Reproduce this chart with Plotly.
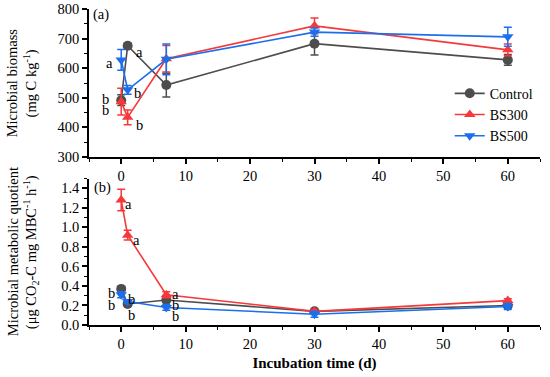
import plotly.graph_objects as go

days = [0, 1, 7, 30, 60]

# Microbial biomass (mg C kg-1)
mb_control = [492, 676, 543, 683, 628]
mb_control_err = [18, 8, 40, 38, 18]
mb_bs300 = [487, 434, 632, 743, 662]
mb_bs300_err = [45, 25, 45, 27, 20]
mb_bs500 = [628, 527, 630, 722, 706]
mb_bs500_err = [35, 15, 52, 14, 32]

# Microbial metabolic quotient
qc_control = [0.37, 0.215, 0.256, 0.14, 0.20]
qc_control_err = [0.02, 0.02, 0.02, 0.01, 0.02]
qc_bs300 = [1.28, 0.92, 0.31, 0.14, 0.25]
qc_bs300_err = [0.11, 0.05, 0.03, 0.02, 0.02]
qc_bs500 = [0.31, 0.24, 0.18, 0.11, 0.19]
qc_bs500_err = [0.03, 0.02, 0.03, 0.03, 0.03]

names = ["Control", "BS300", "BS500"]
colors = ["#4d4d4d", "#f5383a", "#1c6fec"]
symbols = ["circle", "triangle-up", "triangle-down"]

top_letters = [("a", 2.85, 655), ("a", -1.77, 618), ("b", -2.4, 496),
               ("b", -2.4, 458), ("b", 2.54, 516), ("b", 2.85, 407)]
bot_letters = [("a", 1.15, 1.24), ("a", 2.38, 0.87), ("a", 8.38, 0.32),
               ("b", 8.38, 0.205), ("b", 8.38, 0.09), ("b", -1.46, 0.33),
               ("b", -1.46, 0.205), ("b", 1.6, 0.27), ("b", 1.6, 0.10)]

top_title = ["Microbial biomass", "(mg C kg<sup>-1</sup>)"]
bot_title = ["Microbial metabolic quotient",
             "(μg CO<sub>2</sub>-C mg MBC<sup>-1</sup> h<sup>-1</sup>)"]

FONT = "Liberation Serif"

fig = go.Figure()
top = [(mb_control, mb_control_err), (mb_bs300, mb_bs300_err), (mb_bs500, mb_bs500_err)]
bot = [(qc_control, qc_control_err), (qc_bs300, qc_bs300_err), (qc_bs500, qc_bs500_err)]
for i in range(3):
    fig.add_trace(go.Scatter(
        x=days, y=top[i][0], name=names[i], mode="lines+markers",
        line=dict(color=colors[i], width=1.6),
        marker=dict(symbol=symbols[i], size=10, color=colors[i]),
        error_y=dict(type="data", array=top[i][1], color=colors[i], thickness=1.5, width=4),
        xaxis="x", yaxis="y", legendgroup=names[i]))
for i in range(3):
    fig.add_trace(go.Scatter(
        x=days, y=bot[i][0], name=names[i], mode="lines+markers", showlegend=False,
        line=dict(color=colors[i], width=1.6),
        marker=dict(symbol=symbols[i], size=10, color=colors[i]),
        error_y=dict(type="data", array=bot[i][1], color=colors[i], thickness=1.5, width=4),
        xaxis="x2", yaxis="y2", legendgroup=names[i]))

ann = []
for t, x, y in top_letters:
    ann.append(dict(text=t, x=x, y=y, xref="x", yref="y", showarrow=False,
                    font=dict(family=FONT, size=14.5, color="black")))
for t, x, y in bot_letters:
    ann.append(dict(text=t, x=x, y=y, xref="x2", yref="y2", showarrow=False,
                    font=dict(family=FONT, size=14.5, color="black")))
ann.append(dict(text="(a)", x=-3.2, y=780, xref="x", yref="y", showarrow=False,
                font=dict(family=FONT, size=14.5, color="black")))
ann.append(dict(text="(b)", x=-2.9, y=1.41, xref="x2", yref="y2", showarrow=False,
                font=dict(family=FONT, size=14.5, color="black")))
# y-axis titles (two lines each), placed in paper coordinates
for line, xp in zip(top_title, [-0.17, -0.13]):
    ann.append(dict(text=line, x=xp, y=0.7658, xref="paper", yref="paper", showarrow=False,
                    textangle=-90, xanchor="center", yanchor="middle",
                    font=dict(family=FONT, size=14.5, color="black")))
for line, xp in zip(bot_title, [-0.17, -0.13]):
    ann.append(dict(text=line, x=xp, y=0.2316, xref="paper", yref="paper", showarrow=False,
                    textangle=-90, xanchor="center", yanchor="middle",
                    font=dict(family=FONT, size=14.5, color="black")))

axis_common = dict(showline=True, linecolor="black", linewidth=1.5, ticks="outside",
                   ticklen=5, tickwidth=1.5, tickcolor="black", showgrid=False, zeroline=False,
                   tickfont=dict(family=FONT, size=14.5, color="black"), mirror=False,
                   automargin=False)
minor_common = dict(ticks="outside", ticklen=3, tickwidth=1.2, tickcolor="black", showgrid=False)

fig.update_layout(
    width=550, height=377, paper_bgcolor="white", plot_bgcolor="white",
    margin=dict(l=89, r=10, t=9, b=52),
    font=dict(family=FONT, color="black"),
    xaxis=dict(domain=[0, 1], anchor="y", range=[-5, 65], dtick=10, tick0=0,
               minor=dict(dtick=5, **minor_common), **axis_common),
    yaxis=dict(domain=[0.5316, 1], anchor="x", range=[300, 800], dtick=100,
               minor=dict(dtick=50, **minor_common), **axis_common),
    xaxis2=dict(domain=[0, 1], anchor="y2", range=[-5, 65], dtick=10, tick0=0,
                minor=dict(dtick=5, **minor_common),
                title=dict(text="<b>Incubation time (d)</b>", font=dict(family=FONT, size=15, color="black"),
                           standoff=6),
                **axis_common),
    yaxis2=dict(domain=[0, 0.4633], anchor="x2", range=[0, 1.5], dtick=0.2, tickformat=".1f",
                minor=dict(dtick=0.1, **minor_common), **axis_common),
    legend=dict(x=0.995, y=0.7825, xanchor="right", yanchor="top", bgcolor="rgba(0,0,0,0)",
                font=dict(family=FONT, size=14, color="black"), tracegroupgap=0, itemwidth=30),
    annotations=ann,
)

fig.write_html("out.html", config={"displayModeBar": False},
               post_script="document.body.style.margin='0px';document.body.style.overflow='hidden';")
